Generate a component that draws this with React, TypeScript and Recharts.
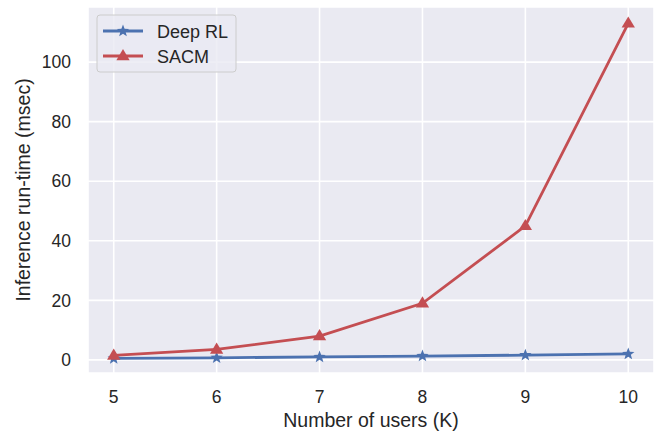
import { LineChart, Line, XAxis, YAxis, CartesianGrid } from 'recharts';

const users = [5, 6, 7, 8, 9, 10];
const deepRL = [0.5, 0.7, 1.0, 1.3, 1.6, 2.0];
const sacm = [1.5, 3.5, 8, 19, 45, 113];
const xTicks = [5, 6, 7, 8, 9, 10];
const yTicks = [0, 20, 40, 60, 80, 100];

const BLUE = '#4C72B0';
const RED = '#C44E52';
const TEXT = '#262626';
const FONT = '"Liberation Sans", Arial, sans-serif';

const data = users.map((u, i) => ({ users: u, deepRL: deepRL[i], sacm: sacm[i] }));

function starPath(cx: number, cy: number, r: number) {
  const pts: string[] = [];
  for (let i = 0; i < 10; i++) {
    const rad = i % 2 === 0 ? r : r * 0.42;
    const a = -Math.PI / 2 + (i * Math.PI) / 5;
    pts.push(`${cx + rad * Math.cos(a)},${cy + rad * Math.sin(a)}`);
  }
  return `M${pts.join('L')}Z`;
}

function trianglePath(cx: number, cy: number, r: number) {
  return `M${cx},${cy - r}L${cx + r * 0.95},${cy + r * 0.6}L${cx - r * 0.95},${cy + r * 0.6}Z`;
}

const StarDot = (props: any) => {
  const { cx, cy, index } = props;
  if (cx == null || cy == null) return null;
  return <path key={`s${index}`} d={starPath(cx, cy, 6.5)} fill={BLUE} />;
};

const TriDot = (props: any) => {
  const { cx, cy, index } = props;
  if (cx == null || cy == null) return null;
  return <path key={`t${index}`} d={trianglePath(cx, cy, 7)} fill={RED} />;
};

// legend drawn as an overlay so it doesn't eat plot space
function LegendBox() {
  const rows = [
    { name: 'Deep RL', color: BLUE, marker: 'star' },
    { name: 'SACM', color: RED, marker: 'tri' },
  ];
  return (
    <svg width={142} height={60} style={{ position: 'absolute', left: 96, top: 14 }}>
      <rect x={1} y={1} width={139} height={57} rx={3} fill="#EAEAF2" fillOpacity={0.8} stroke="#CCCCCC" />
      {rows.map((r, i) => {
        const y = 17 + i * 25;
        return (
          <g key={r.name}>
            <line x1={7} x2={47} y1={y} y2={y} stroke={r.color} strokeWidth={2.8} />
            <path d={r.marker === 'star' ? starPath(27, y, 6.5) : trianglePath(27, y, 7)} fill={r.color} />
            <text x={61} y={y + 6.5} fontSize={18} fill={TEXT} fontFamily={FONT}>
              {r.name}
            </text>
          </g>
        );
      })}
    </svg>
  );
}

export default function App() {
  return (
    <div style={{ position: 'absolute', left: 0, top: 0, width: 663, height: 434, background: '#fff' }}>
      <LineChart
        width={663}
        height={434}
        data={data}
        margin={{ top: 7, right: 9, bottom: 0, left: 0 }}
        style={{ fontFamily: FONT }}
      >
        <CartesianGrid stroke="#FFFFFF" strokeWidth={1.6} fill="#EAEAF2" fillOpacity={1} />
        <XAxis
          dataKey="users"
          type="number"
          domain={[4.75, 10.25]}
          ticks={xTicks}
          axisLine={false}
          tickLine={false}
          tickMargin={12}
          height={61}
          tick={{ fill: TEXT, fontSize: 17.5 }}
          label={{ value: 'Number of users (K)', position: 'insideBottom', offset: 7, fill: TEXT, fontSize: 19.5 }}
        />
        <YAxis
          type="number"
          domain={[-4.4, 118.5]}
          ticks={yTicks}
          axisLine={false}
          tickLine={false}
          tickMargin={11}
          width={88}
          allowDataOverflow
          tick={{ fill: TEXT, fontSize: 17.5 }}
          label={{
            value: 'Inference run-time (msec)',
            angle: -90,
            position: 'insideLeft',
            offset: 23,
            fill: TEXT,
            fontSize: 19.5,
            style: { textAnchor: 'middle' },
          }}
        />
        <Line
          dataKey="deepRL"
          stroke={BLUE}
          strokeWidth={2.8}
          dot={StarDot}
          activeDot={false}
          isAnimationActive={false}
        />
        <Line
          dataKey="sacm"
          stroke={RED}
          strokeWidth={2.8}
          dot={TriDot}
          activeDot={false}
          isAnimationActive={false}
        />
      </LineChart>
      <LegendBox />
    </div>
  );
}
